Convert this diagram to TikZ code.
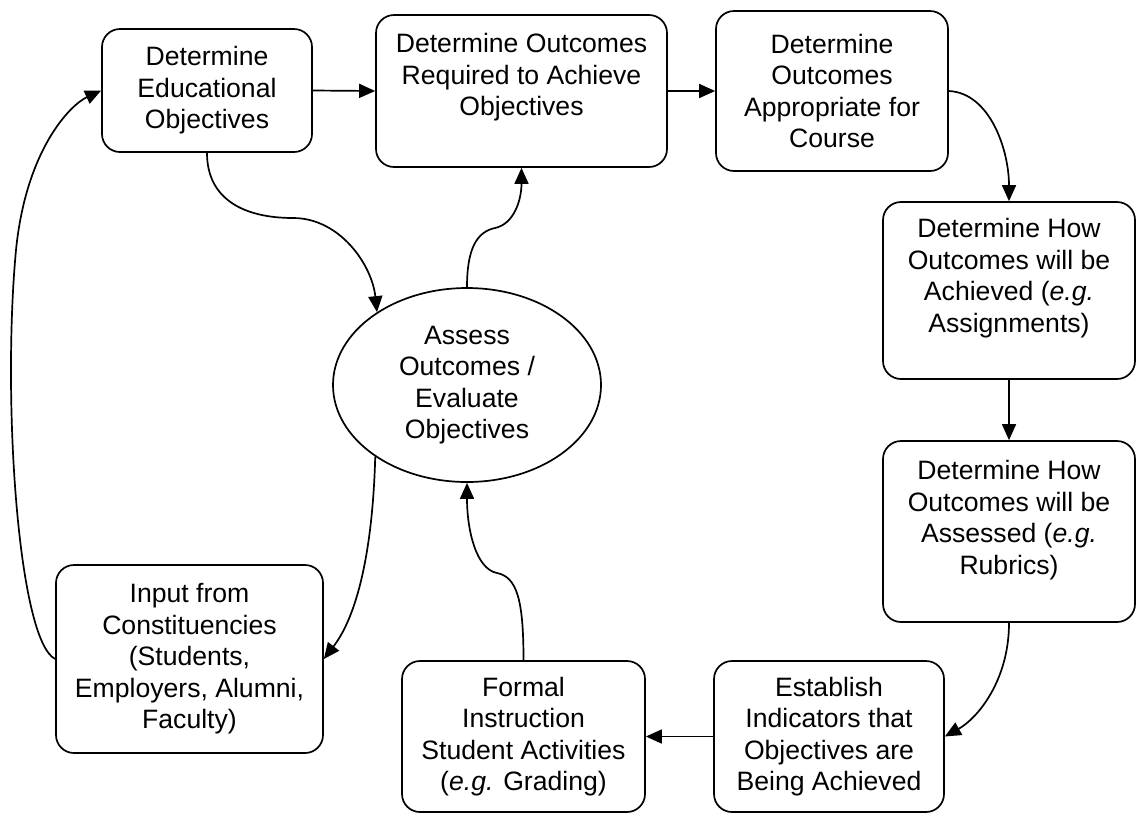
\documentclass[tikz,border=0pt]{standalone}
\usepackage{fontspec}
\setmainfont{Liberation Sans}
\usetikzlibrary{arrows.meta,shapes.geometric}
\tikzset{
  box/.style={draw, line width=1.7pt, rounded corners=18pt, rectangle, inner sep=0pt},
  lbl/.style={align=center, inner sep=0pt, font=\fontsize{26.6pt}{31.5pt}\selectfont},
  oval/.style={draw, line width=1.7pt, ellipse, inner sep=0pt, align=center, font=\fontsize{26.6pt}{31.5pt}\selectfont},
  conn/.style={line width=1.7pt, -{Triangle[length=16pt,width=14pt]}},
}
\begin{document}
\begin{tikzpicture}[x=1pt, y=-1pt]
\useasboundingbox (0,0) rectangle (1137,815);
% A
\node[box, lbl, minimum width=210, minimum height=123] (A) at (207,90.5) {Determine\\Educational\\Objectives};
% B
\node[box, minimum width=291, minimum height=152] (B) at (521.5,91) {};
\node[lbl] (Bt) at (521.5,77.5) {Determine Outcomes\\Required to Achieve\\Objectives};
% C
\node[box, lbl, minimum width=232, minimum height=160] (C) at (832,91) {Determine\\Outcomes\\Appropriate for\\Course};
% D
\node[box, minimum width=252, minimum height=177] (D) at (1009,290.5) {};
\node[lbl] (Dt) at (1009,278) {Determine How\\Outcomes will be\\Achieved (\textit{e.g.}\\Assignments)};
% E
\node[box, minimum width=252, minimum height=181] (E) at (1009,531.5) {};
\node[lbl] (Et) at (1009,520) {Determine How\\Outcomes will be\\Assessed (\textit{e.g.}\\Rubrics)};
% F
\node[box, lbl, minimum width=230, minimum height=151] (F) at (829,736.5) {Establish\\Indicators that\\Objectives are\\Being Achieved};
% G
\node[box, lbl, minimum width=243, minimum height=151] (G) at (523.5,736.5) {Formal\\Instruction\\Student Activities\\(\textit{e.g.} Grading)};
% H
\node[box, lbl, minimum width=267, minimum height=188] (H) at (189.5,659) {Input from\\Constituencies\\(Students,\\Employers, Alumni,\\Faculty)};
% Ellipse
\node[oval, minimum width=268, minimum height=194] (O) at (467,385) {Assess\\Outcomes /\\Evaluate\\Objectives};

% connectors
\draw[conn] (A.east) -- (B.west);
\draw[conn] (B.east) -- (C.west);
\draw[conn] (C.east) .. controls (990,93) and (1009,150) .. (D.north);
\draw[conn] (D.south) -- (E.north);
\draw[conn] (E.south) .. controls (1009,680) and (978,718) .. (F.east);
\draw[conn] (F.west) -- (G.east);
\draw[conn] (G.north) .. controls (523.5,600) and (517,577) .. (497,573) .. controls (476,569) and (467,530) .. (O.south);
\draw[conn] (O.north) .. controls (467,250) and (476,232) .. (495,228) .. controls (514,224) and (521.5,200) .. (B.south);
\draw[conn] (A.south) .. controls (207,200) and (245,218) .. (293,218) .. controls (340,218) and (372,265) .. (O.141);
\draw[conn] (O.218) .. controls (373,540) and (360,612) .. (H.east);
\draw[conn] (H.west) .. controls (18,640) and (2,400) .. (16,250) .. controls (26,150) and (70,105) .. (A.west);
\end{tikzpicture}
\end{document}
